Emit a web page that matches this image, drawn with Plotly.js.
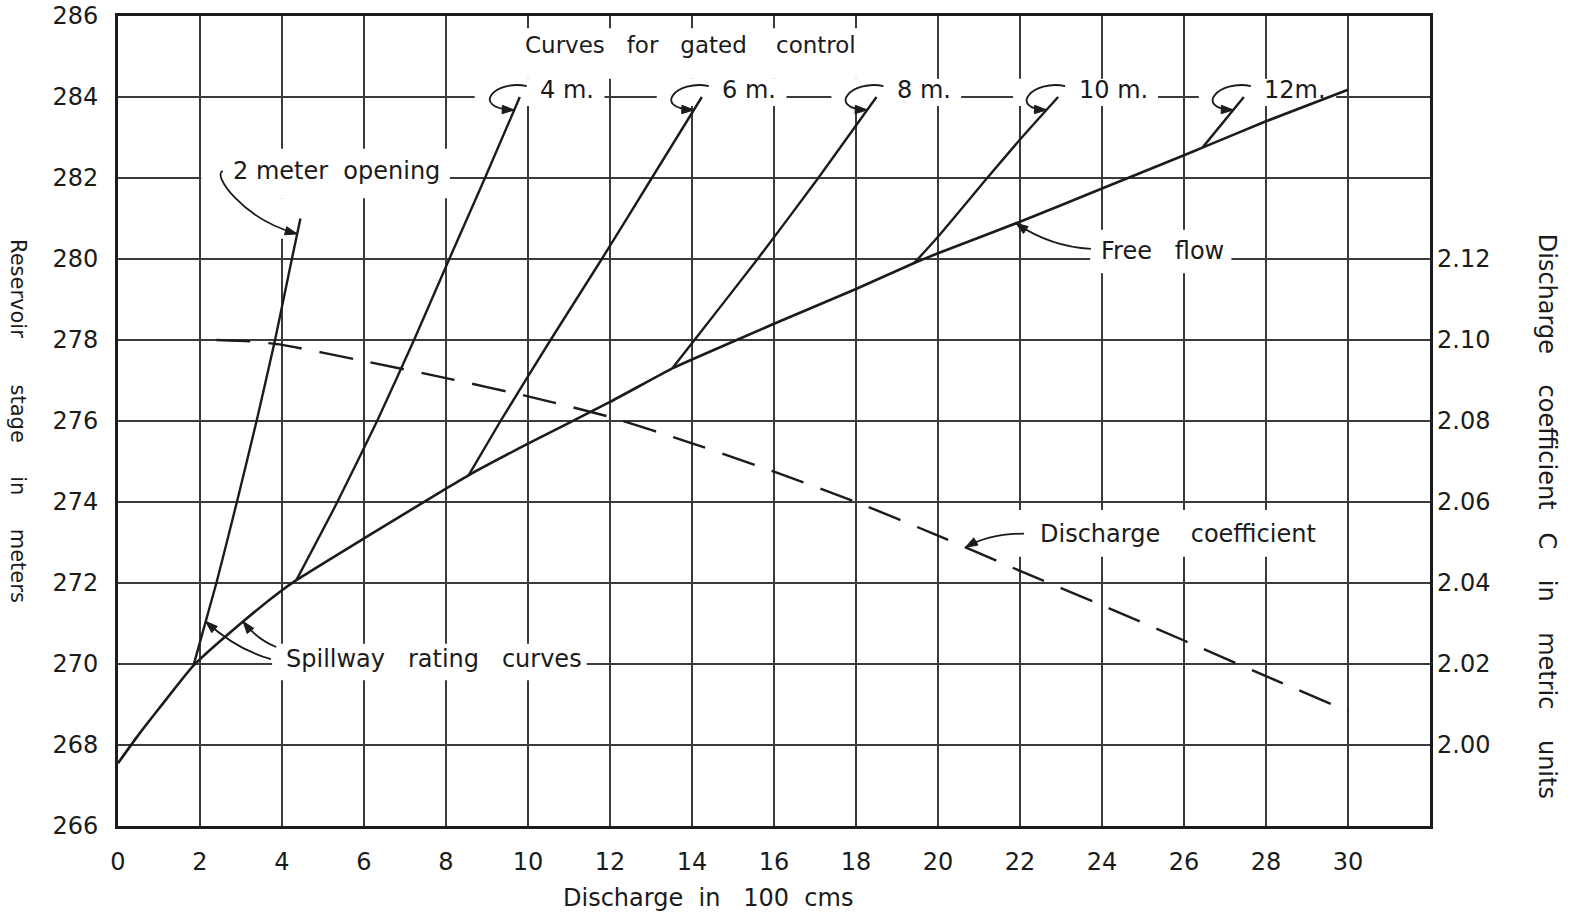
<!DOCTYPE html>
<html>
<head>
<meta charset="utf-8">
<script src="https://cdn.plot.ly/plotly-3.0.1.min.js"></script>
<style>
  html, body { margin: 0; padding: 0; background: #ffffff; }
  #chart { width: 1575px; height: 917px; }
</style>
</head>
<body>
<div id="chart"></div>
<script>
// ---- Spillway rating data (discharge in 100 cms, reservoir stage in m) ----
const freeFlowQ = [0, 0.5, 1.0, 1.84, 3.05, 4.0, 4.35, 6, 8, 8.55, 10, 12, 13.52, 14, 16, 18, 19.42, 20, 22, 24, 26, 26.45, 28, 30];
const freeFlowH = [267.55, 268.25, 268.9, 269.96, 271.05, 271.82, 272.07, 273.1, 274.33, 274.66, 275.44, 276.47, 277.3, 277.52, 278.4, 279.26, 279.9, 280.14, 280.92, 281.74, 282.56, 282.75, 283.4, 284.18];

// Gated control curves, one pair of arrays per gate opening
const gate2Q = [1.84, 2.4, 2.9, 3.38, 3.83, 4.24, 4.45];
const gate2H = [269.96, 272, 274, 276, 278, 280, 281.0];
const gate4Q = [4.35, 5.35, 6.32, 7.22, 8.08, 8.95, 9.8];
const gate4H = [272.07, 274, 276, 278, 280, 282, 284];
const gate6Q = [8.55, 9.33, 10.55, 11.8, 13.02, 14.24];
const gate6H = [274.66, 276, 278, 280, 282, 284];
const gate8Q = [13.52, 14.06, 15.6, 17.08, 18.5];
const gate8H = [277.3, 278, 280, 282, 284];
const gate10Q = [19.42, 20, 21.2, 22, 22.93];
const gate10H = [279.9, 280.55, 282, 282.95, 284];
const gate12Q = [26.45, 27.46];
const gate12H = [282.75, 284];

// Discharge coefficient C (metric units), read on the right-hand scale
const coefQ = [2.4, 3.2, 4, 6, 8, 10, 12, 14, 16, 18, 20, 22, 24, 26, 28, 30];
const coefC = [2.100, 2.0997, 2.0988, 2.0948, 2.0906, 2.0861, 2.0810, 2.0745, 2.0675, 2.0600, 2.0517, 2.0430, 2.0345, 2.0258, 2.0170, 2.0083];

// Tick labels
const xTicks = [0, 2, 4, 6, 8, 10, 12, 14, 16, 18, 20, 22, 24, 26, 28, 30];
const stageTicks = [266, 268, 270, 272, 274, 276, 278, 280, 282, 284, 286];
const coefTicks = [2.00, 2.02, 2.04, 2.06, 2.08, 2.10, 2.12];

const gateLabels = ['4 m.', '6 m.', '8 m.', '10 m.', '12m.'];

// ---- geometry of the plotting frame (grid spacing kept on whole pixels) ----
const W = 1575, H = 917;
const M = { l: 118, r: 145, t: 16, b: 91 };
const X_RANGE = [0, 32], Y_RANGE = [266, 286], C_RANGE = [1.98, 2.18];
const PX = (W - M.l - M.r) / (X_RANGE[1] - X_RANGE[0]);
const PY = (H - M.t - M.b) / (Y_RANGE[1] - Y_RANGE[0]);

const INK = '#1b1b1b';
const GRID = '#3a3a3a';
const FONT = 'DejaVu Sans';
const NB = '\u00a0';
const gapWords = (words, gaps) => words.map((w, i) => i < gaps.length ? w + NB.repeat(gaps[i]) : w).join('');

const ctx = document.createElement('canvas').getContext('2d');
function textWidth(text, size) {
  ctx.font = size + 'px "' + FONT + '"';
  return ctx.measureText(text).width / PX;   // in discharge units
}

function qAtH(qs, hs, h) {
  for (let i = 0; i < hs.length - 1; i++) {
    if (h >= hs[i] && h <= hs[i + 1]) return qs[i] + (h - hs[i]) / (hs[i + 1] - hs[i]) * (qs[i + 1] - qs[i]);
  }
  return qs[qs.length - 1];
}
function hAtQ(qs, hs, q) {
  for (let i = 0; i < qs.length - 1; i++) {
    if (q >= qs[i] && q <= qs[i + 1]) return hs[i] + (q - qs[i]) / (qs[i + 1] - qs[i]) * (hs[i + 1] - hs[i]);
  }
  return hs[hs.length - 1];
}
// right-hand coefficient value expressed on the stage scale
const cToStage = c => Y_RANGE[0] + (c - C_RANGE[0]) / (C_RANGE[1] - C_RANGE[0]) * (Y_RANGE[1] - Y_RANGE[0]);

const shapes = [];
const annotations = [];

function whiteBox(x0, x1, y0, y1) {
  shapes.push({ type: 'rect', xref: 'x', yref: 'y', x0, x1, y0, y1,
    fillcolor: '#ffffff', line: { width: 0 }, layer: 'between' });
}
const fmt = p => p[0].toFixed(4) + ',' + p[1].toFixed(4);
function leader(d) {
  shapes.push({ type: 'path', xref: 'x', yref: 'y', path: d, layer: 'above',
    line: { color: INK, width: 1.8 } });
}
function arrowHead(tip, from, len = 12, half = 4.2) {
  const dx = (tip[0] - from[0]) * PX, dy = (tip[1] - from[1]) * PY;
  const n = Math.hypot(dx, dy) || 1;
  const ux = dx / n, uy = dy / n;
  const bx = tip[0] * PX - ux * len, by = tip[1] * PY - uy * len;
  const p1 = [(bx - uy * half) / PX, (by + ux * half) / PY];
  const p2 = [(bx + uy * half) / PX, (by - ux * half) / PY];
  shapes.push({ type: 'path', xref: 'x', yref: 'y', layer: 'above',
    path: 'M ' + fmt(tip) + ' L ' + fmt(p1) + ' L ' + fmt(p2) + ' Z',
    fillcolor: INK, line: { color: INK, width: 1 } });
}
function cubic(p0, p1, p2, p3) {
  leader('M ' + fmt(p0) + ' C ' + fmt(p1) + ' ' + fmt(p2) + ' ' + fmt(p3));
  arrowHead(p3, p2);
}
function quad(p0, p1, p2) {
  leader('M ' + fmt(p0) + ' Q ' + fmt(p1) + ' ' + fmt(p2));
  arrowHead(p2, p1);
}
function note(text, x, y, size, extra) {
  annotations.push(Object.assign({ text, x, y, xref: 'x', yref: 'y', xanchor: 'left', yanchor: 'middle',
    showarrow: false, font: { family: FONT, size, color: INK } }, extra || {}));
}

const LABEL = 24;

// ---- headline over the gated curves ----
const headText = gapWords(['Curves', 'for', 'gated', 'control'], [3, 3, 4]);
const headLeft = 9.88, headY = 285.28, headSize = 23;
note(headText, headLeft, headY, headSize);
whiteBox(headLeft - 0.15, headLeft + textWidth(headText, headSize) + 0.15, 284.45, 285.7);

// ---- labels at the top of each gated curve ----
const gateSets = [[gate4Q, gate4H], [gate6Q, gate6H], [gate8Q, gate8H], [gate10Q, gate10H], [gate12Q, gate12H]];
gateSets.forEach(([gq, gh], i) => {
  const top = [gq[gq.length - 1], gh[gh.length - 1]];
  const label = gateLabels[i];
  const left = top[0] + 0.45;
  note(label, left, top[1] + 0.17, LABEL);
  whiteBox(top[0] - 1.1, left + textWidth(label, LABEL) + 0.3, top[1] - 0.22, top[1] + 0.45);
  const tipH = top[1] - 0.32;
  cubic([top[0] + 0.17, top[1] + 0.27], [top[0] - 0.6, top[1] + 0.44],
        [top[0] - 1.25, top[1] - 0.28], [qAtH(gq, gh, tipH), tipH]);
});

// ---- "2 meter opening" ----
const twoText = gapWords(['2', 'meter', 'opening'], [1, 2]);
const twoLeft = 2.76, twoY = 282.18;
note(twoText, twoLeft, twoY, LABEL);
whiteBox(2.03, twoLeft + textWidth(twoText, LABEL) + 0.28, 281.5, 282.72);
whiteBox(3.9, 4.1, 280.5, 281.5);
cubic([2.56, 282.17], [2.28, 282.12], [3.0, 281.0], [qAtH(gate2Q, gate2H, 280.62), 280.62]);

// ---- "Free flow" ----
const freeText = gapWords(['Free', 'flow'], [3]);
const freeLeft = 23.93, freeY = 280.2;
note(freeText, freeLeft, freeY, LABEL);
whiteBox(freeLeft - 0.22, freeLeft + textWidth(freeText, LABEL) + 0.22, 279.65, 280.72);
quad([freeLeft - 0.2, 280.25], [22.75, 280.3], [21.9, hAtQ(freeFlowQ, freeFlowH, 21.9)]);

// ---- "Spillway rating curves" ----
const spillText = gapWords(['Spillway', 'rating', 'curves'], [3, 3]);
const spillLeft = 4.06, spillY = 270.12;
note(spillText, spillLeft, spillY, LABEL);
whiteBox(spillLeft - 0.3, spillLeft + textWidth(spillText, LABEL) + 0.16, 269.6, 270.5);
quad([spillLeft - 0.33, 270.12], [2.9, 270.35], [qAtH(gate2Q, gate2H, 271.05), 271.05]);
quad([spillLeft - 0.2, 270.42], [3.4, 270.6], [qAtH(freeFlowQ, freeFlowH, 271.05), 271.05]);

// ---- "Discharge coefficient" ----
const coefText = gapWords(['Discharge', 'coefficient'], [4]);
const coefLeft = 22.45, coefY = 273.2;
note(coefText, coefLeft, coefY, LABEL);
whiteBox(21.95, coefLeft + textWidth(coefText, LABEL) + 0.1, 272.65, 273.8);
quad([coefLeft - 0.35, 273.22], [21.25, 273.22], [20.67, cToStage(hAtQ(coefQ, coefC, 20.67))]);

// ---- axis titles ----
annotations.push({
  text: gapWords(['Discharge', 'in', '100', 'cms'], [2, 3, 2]),
  x: 14.4, xref: 'x', y: 0, yref: 'paper', yshift: -72, xanchor: 'center', yanchor: 'middle',
  showarrow: false, font: { family: FONT, size: 24, color: INK }
});
annotations.push({
  text: gapWords(['Reservoir', 'stage', 'in', 'meters'], [7, 5, 5]),
  x: 0, xref: 'paper', xshift: -100, y: 276, yref: 'y', textangle: 90,
  xanchor: 'center', yanchor: 'middle', showarrow: false, font: { family: FONT, size: 21, color: INK }
});
annotations.push({
  text: gapWords(['Discharge', 'coefficient', 'C', 'in', 'metric', 'units'], [4, 3, 4, 4, 4]),
  x: 1, xref: 'paper', xshift: 117, y: 273.66, yref: 'y', textangle: 90,
  xanchor: 'center', yanchor: 'middle', showarrow: false, font: { family: FONT, size: 24, color: INK }
});

// ---- traces ----
const curve = (q, h, w, shape) => ({ x: q, y: h, type: 'scatter', mode: 'lines', hoverinfo: 'skip',
  line: { color: INK, width: w, shape: shape, smoothing: 0.5 } });

const traces = [
  curve(freeFlowQ, freeFlowH, 2.6, 'spline'),
  curve(gate2Q, gate2H, 2.4, 'spline'),
  curve(gate4Q, gate4H, 2.4, 'spline'),
  curve(gate6Q, gate6H, 2.4, 'spline'),
  curve(gate8Q, gate8H, 2.4, 'spline'),
  curve(gate10Q, gate10H, 2.4, 'spline'),
  curve(gate12Q, gate12H, 2.4, 'linear'),
  { x: coefQ, y: coefC, yaxis: 'y2', type: 'scatter', mode: 'lines', hoverinfo: 'skip',
    line: { color: INK, width: 2.4, dash: '34px,18px', shape: 'spline', smoothing: 0.5 } }
];

const layout = {
  width: W, height: H,
  margin: M,
  paper_bgcolor: '#ffffff', plot_bgcolor: '#ffffff',
  showlegend: false,
  font: { family: FONT, color: INK },
  xaxis: {
    range: X_RANGE, tickvals: xTicks, ticktext: xTicks.map(String),
    showgrid: true, gridcolor: GRID, gridwidth: 2, zeroline: false,
    showline: true, mirror: true, linecolor: INK, linewidth: 3,
    ticks: '', ticklabelstandoff: 12, tickfont: { family: FONT, size: 24, color: INK }
  },
  yaxis: {
    range: Y_RANGE, tickvals: stageTicks, ticktext: stageTicks.map(String),
    showgrid: true, gridcolor: GRID, gridwidth: 2, zeroline: false,
    showline: true, mirror: true, linecolor: INK, linewidth: 3,
    ticks: '', ticklabelstandoff: 12, tickfont: { family: FONT, size: 24, color: INK }
  },
  yaxis2: {
    range: C_RANGE, overlaying: 'y', side: 'right', anchor: 'x',
    tickvals: coefTicks, ticktext: coefTicks.map(v => v.toFixed(2)),
    showgrid: false, zeroline: false, showline: false, ticks: '',
    ticklabelstandoff: 6, tickfont: { family: FONT, size: 24, color: INK }
  },
  shapes, annotations
};

Plotly.newPlot('chart', traces, layout, { staticPlot: true, displayModeBar: false });
</script>
</body>
</html>
